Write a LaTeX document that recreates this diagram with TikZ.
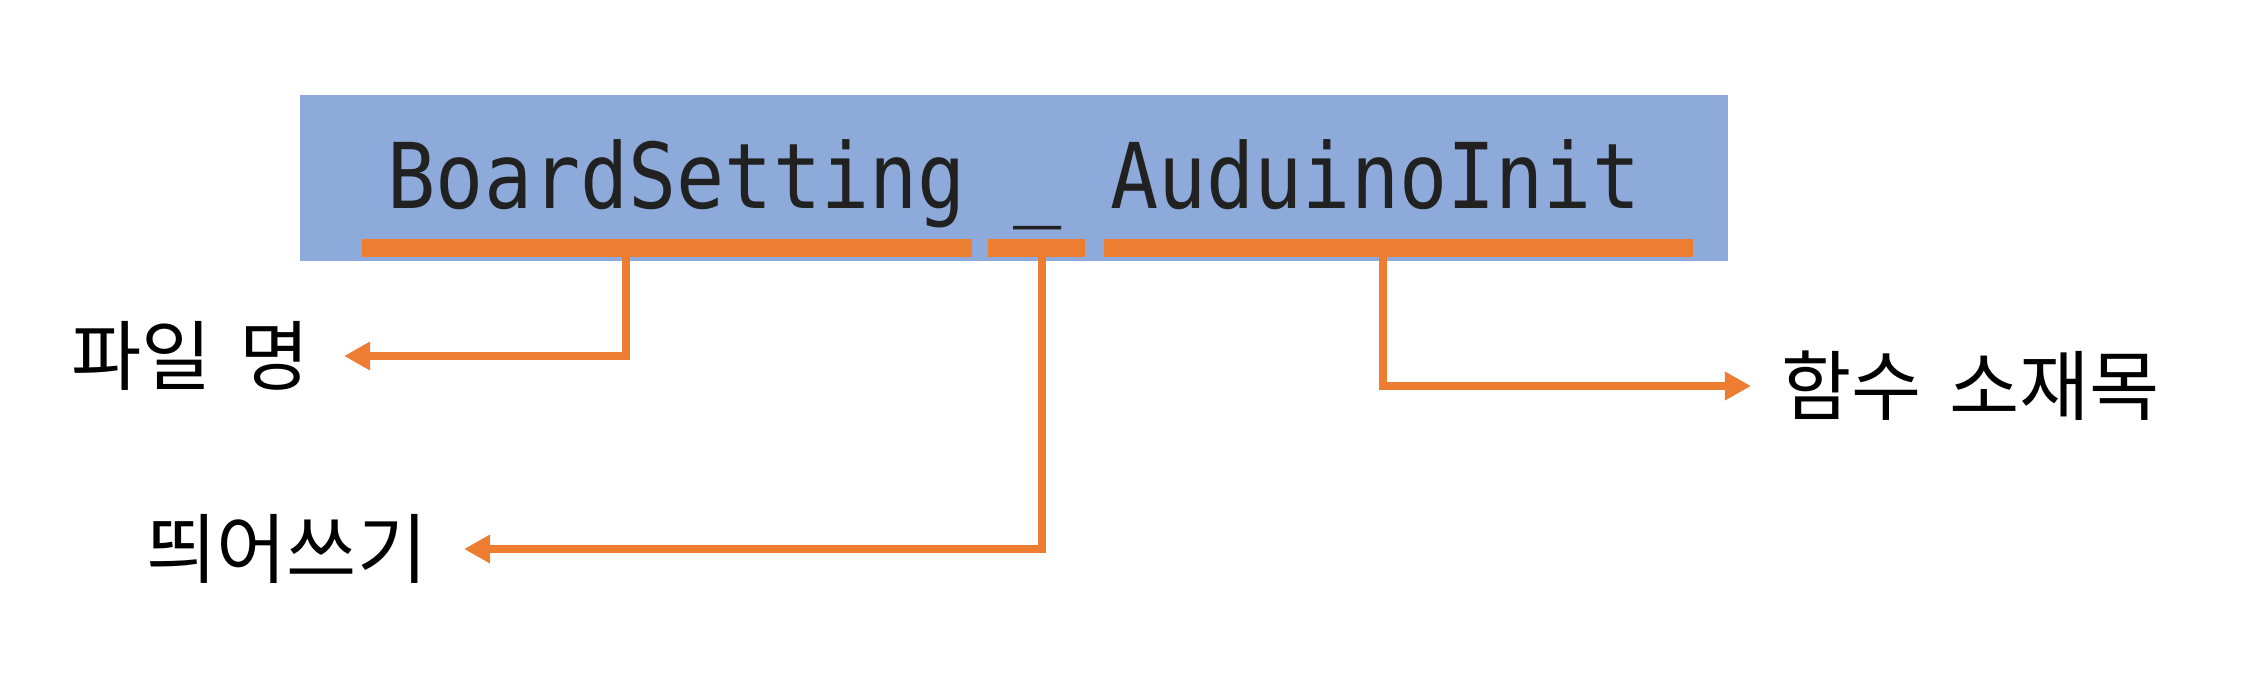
\documentclass[tikz,border=0pt]{standalone}
\usepackage{fontspec}
\usetikzlibrary{arrows.meta}
\newfontfamily\codefont[FakeStretch=0.882]{DejaVu Sans Mono}
\newfontfamily\kofont[WordSpace=1.6]{Noto Sans CJK KR}
\definecolor{bannerblue}{HTML}{8EAADB}
\definecolor{markorange}{HTML}{ED7D31}

\begin{document}
\begin{tikzpicture}[x=0.01cm, y=-0.01cm,
    bar/.style={fill=markorange, inner sep=0pt, minimum height=0.177cm},
    label/.style={font=\kofont\fontsize{21.7pt}{26pt}\selectfont, inner sep=0pt},
    link/.style={draw=markorange, line width=0.085cm, -{Triangle[length=0.26cm, width=0.27cm]}}]
    \useasboundingbox (0,0) rectangle (2256,693);

    % Function name
    \node[fill=bannerblue, minimum width=14.27cm, minimum height=1.657cm] (banner) at (1013.7,177.9) {};
    \node[anchor=base, inner sep=0pt, text=black!87, font=\codefont\fontsize{25.8pt}{30pt}\selectfont] (code) at (1014,208) {BoardSetting \_ AuduinoInit};

    % Underlines
    \node[bar, minimum width=6.10cm] (bfile) at (667,248) {};
    \node[bar, minimum width=0.97cm] (bsep) at (1036.3,248) {};
    \node[bar, minimum width=5.89cm] (bfunc) at (1398.5,248) {};

    % Labels
    \node[label, anchor=east] (lfile) at (310,356) {파일 명};
    \node[label, anchor=east] (lsep) at (428,549) {띄어쓰기};
    \node[label, anchor=west] (lfunc) at (1781,386) {함수 소재목};

    % Arrows
    \coordinate (tfile) at (626,248);
    \coordinate (tsep) at (1042,248);
    \coordinate (tfunc) at (1383,248);
    \draw[link, shorten >=0.34cm] (tfile) |- (lfile);
    \draw[link, shorten >=0.36cm] (tsep) |- (lsep);
    \draw[link, shorten >=0.30cm] (tfunc) |- (lfunc);
\end{tikzpicture}
\end{document}
